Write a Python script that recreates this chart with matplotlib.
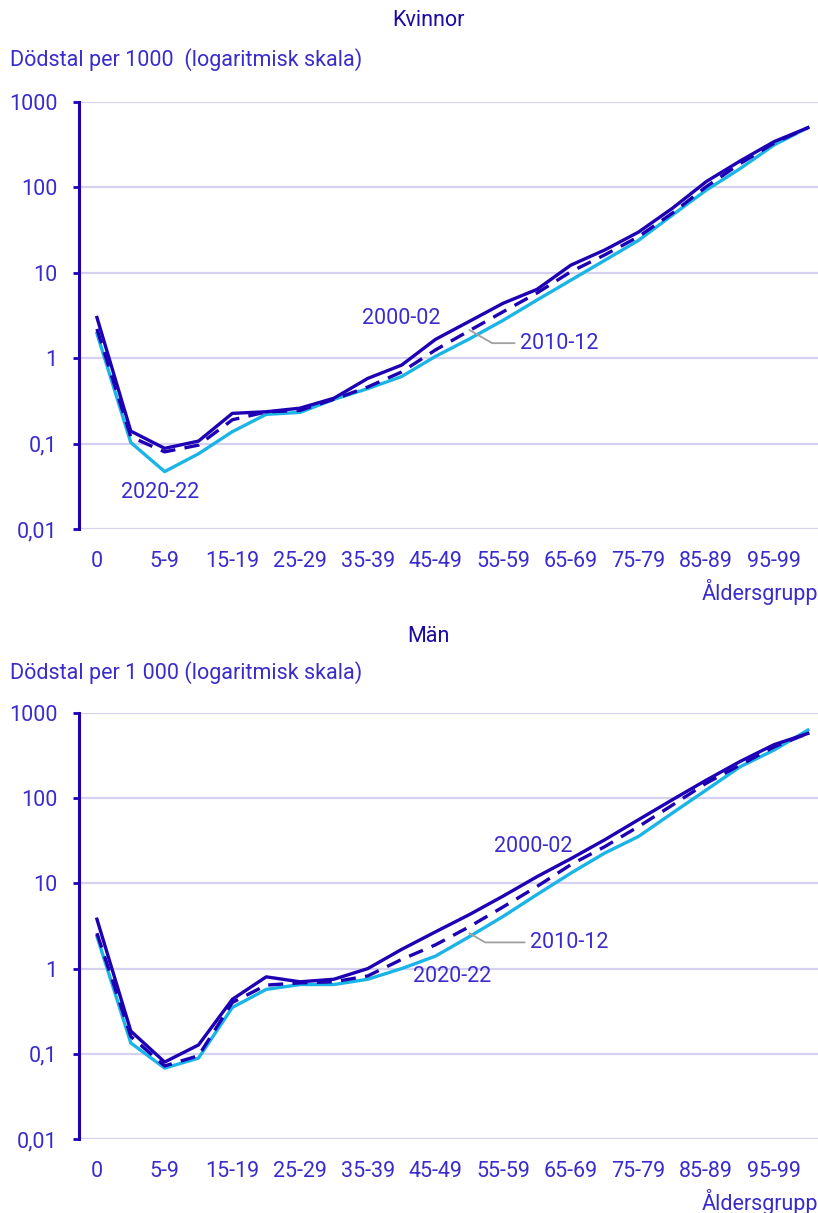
import matplotlib.pyplot as plt

plt.rcParams['font.family'] = ['Roboto', 'DejaVu Sans']

ages = ["0", "1-4", "5-9", "10-14", "15-19", "20-24", "25-29", "30-34", "35-39",
        "40-44", "45-49", "50-54", "55-59", "60-64", "65-69", "70-74", "75-79",
        "80-84", "85-89", "90-94", "95-99", "100+"]

# Kvinnor
k_2000 = [3.0, 0.14, 0.088, 0.107, 0.226, 0.236, 0.26, 0.34, 0.58, 0.83, 1.66, 2.7,
          4.4, 6.4, 12.3, 18.5, 30, 57, 117, 204, 343, 500]
k_2010 = [2.2, 0.12, 0.08, 0.096, 0.19, 0.235, 0.245, 0.33, 0.46, 0.69, 1.25, 2.1,
          3.5, 5.8, 10.3, 16.2, 26.5, 50, 102, 190, 330, 500]
k_2020 = [1.95, 0.103, 0.047, 0.076, 0.138, 0.22, 0.232, 0.33, 0.44, 0.61, 1.05, 1.68,
          2.78, 4.8, 8.2, 14, 24, 47.5, 93, 166, 314, 500]

# Män
m_2000 = [3.8, 0.185, 0.08, 0.127, 0.436, 0.8, 0.70, 0.75, 1.0, 1.68, 2.7, 4.3,
          7.1, 12, 19.5, 32.5, 56, 96, 163, 270, 425, 575]
m_2010 = [2.6, 0.16, 0.072, 0.095, 0.40, 0.64, 0.68, 0.70, 0.82, 1.28, 1.9, 3.1,
          5.3, 9.2, 16.6, 27, 46.5, 83, 150, 245, 400, 575]
m_2020 = [2.4, 0.134, 0.068, 0.089, 0.35, 0.57, 0.65, 0.65, 0.75, 1.0, 1.4, 2.37,
          4.1, 7.4, 13.2, 22.7, 35.6, 67, 125, 234, 367, 630]

yticks = [0.01, 0.1, 1, 10, 100, 1000]
ylabels = ["0,01", "0,1", "1", "10", "100", "1000"]

DARK = "#1e00b4"
CYAN = "#1ab4e6"
TXT = "#3a2ccc"
GRID = "#d4d2f0"
FS = 15.5

W, H = 818, 1213
fig = plt.figure(figsize=(W / 100, H / 100), dpi=100)


def panel(top_px, bottom_px, s2000, s2010, s2020, title, ylab, title_y, ylab_y, notes):
    ax = fig.add_axes([79 / W, 1 - bottom_px / H, (W - 79) / W, (bottom_px - top_px) / H])
    x = range(len(ages))
    ax.plot(x, s2020, color=CYAN, lw=2.4, solid_joinstyle="round", zorder=3)
    ax.plot(x, s2000, color=DARK, lw=2.4, solid_joinstyle="round", zorder=4)
    ax.plot(x, s2010, color=DARK, lw=2.4, dashes=(4.5, 2.8), zorder=5)
    ax.set_yscale("log")
    ax.set_ylim(0.01, 1000)
    ax.set_xlim(-0.53, 21.3)
    ax.set_yticks(yticks)
    ax.set_yticklabels(ylabels)
    ax.minorticks_off()
    ax.set_xticks(list(x)[::2])
    ax.set_xticklabels(ages[::2])
    ax.tick_params(axis="y", length=4.5, width=2, color=DARK, pad=11, labelsize=FS,
                   labelcolor=TXT)
    ax.tick_params(axis="x", length=0, pad=16, labelsize=FS, labelcolor=TXT)
    for s in ["top", "right", "bottom"]:
        ax.spines[s].set_visible(False)
    ax.spines["left"].set_color(DARK)
    ax.spines["left"].set_linewidth(2.2)
    for yv in yticks:
        ax.axhline(yv, color=GRID, lw=1.6, zorder=1)
    fig.text(428 / W, 1 - title_y / H, title, ha="center", va="center",
             fontsize=FS, color="#1a0aa8")
    fig.text(10 / W, 1 - ylab_y / H, ylab, ha="left", va="center",
             fontsize=FS, color=TXT)
    fig.text(818 / W, 1 - (bottom_px + 63) / H, "Åldersgrupp", ha="right", va="center",
             fontsize=FS, color=TXT)
    for txt, xy, tx, lead in notes:
        if lead:
            ax.annotate(txt, xy=xy, xytext=tx, textcoords="data", fontsize=FS,
                        color=TXT, ha="left", va="center",
                        arrowprops=dict(arrowstyle="-", color="#a0a0a0", lw=1.3,
                                        connectionstyle="angle,angleA=0,angleB=-30,rad=0",
                                        shrinkA=2, shrinkB=0))
        else:
            ax.text(tx[0], tx[1], txt, fontsize=FS, color=TXT, ha="center", va="center")
    return ax


panel(102, 529, k_2000, k_2010, k_2020, "Kvinnor",
      "Dödstal per 1000  (logaritmisk skala)", 20, 60,
      [("2000-02", None, (8.98, 2.95), False),
       ("2010-12", (11.0, 2.14), (12.5, 1.5), True),
       ("2020-22", None, (1.86, 0.027), False)])

panel(713, 1139, m_2000, m_2010, m_2020, "Män",
      "Dödstal per 1 000 (logaritmisk skala)", 636, 673,
      [("2000-02", None, (12.9, 27), False),
       ("2010-12", (11.0, 2.6), (12.8, 2.03), True),
       ("2020-22", None, (10.48, 0.81), False)])

fig.savefig("out.png", dpi=100)
